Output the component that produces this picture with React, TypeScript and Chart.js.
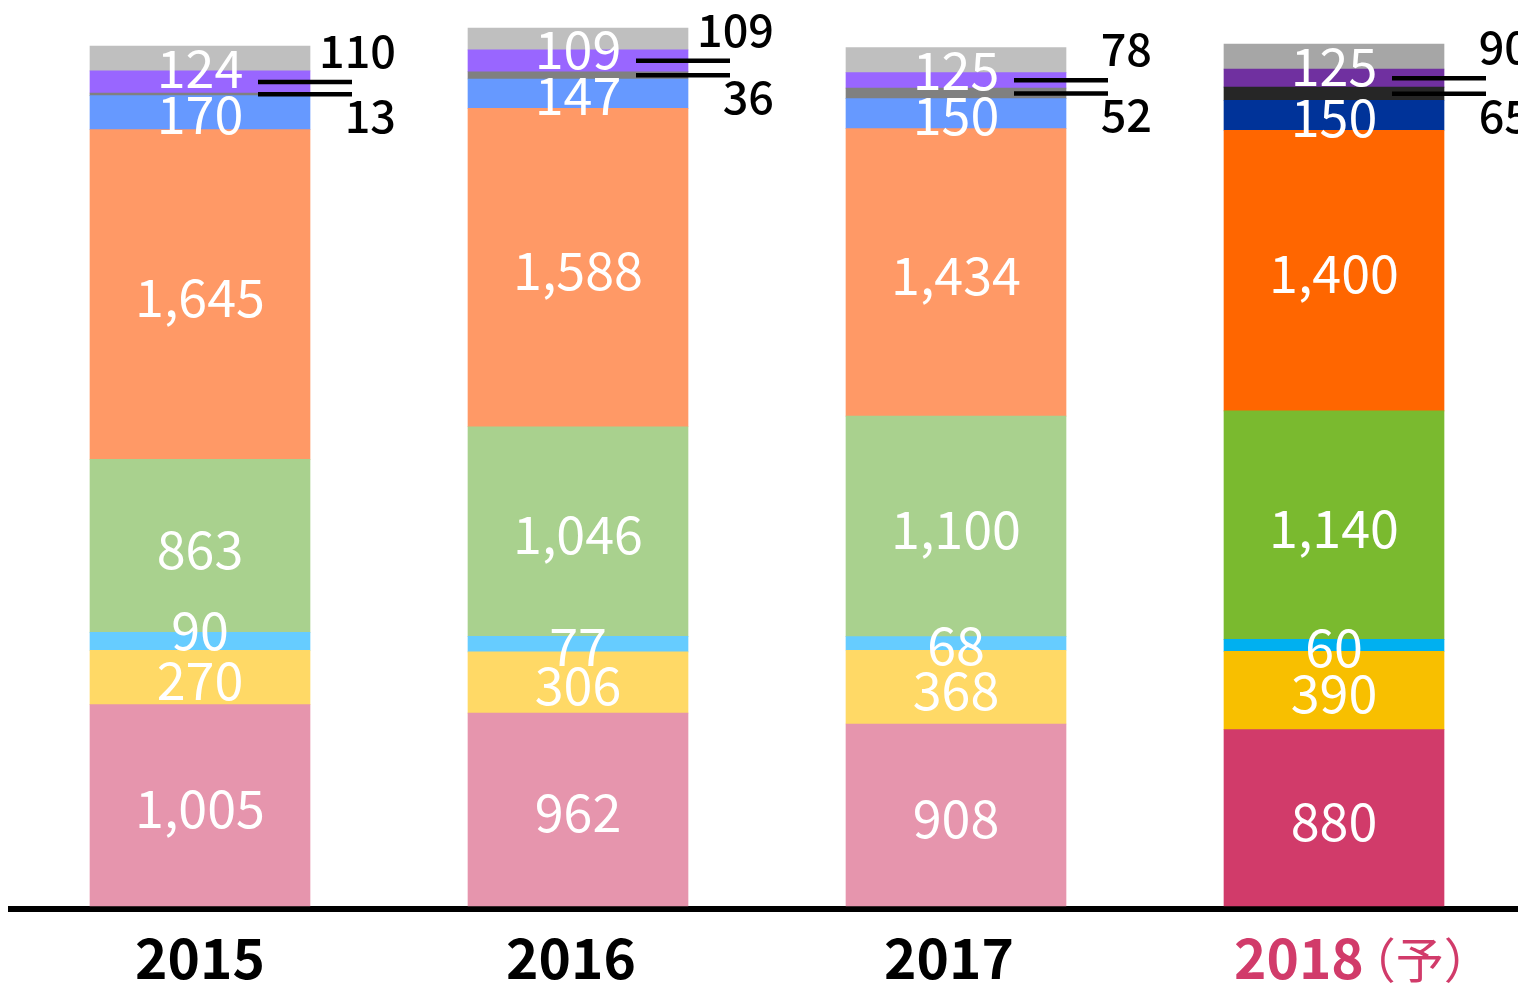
import React, { useEffect, useRef } from "react";
import { Chart, registerables } from "chart.js";

Chart.register(...registerables);

// ---- data ----
const categories = ["2015", "2016", "2017", "2018（予）"];
const pinkValues = [1005, 962, 908, 880];
const yellowValues = [270, 306, 368, 390];
const lightBlueValues = [90, 77, 68, 60];
const greenValues = [863, 1046, 1100, 1140];
const orangeValues = [1645, 1588, 1434, 1400];
const blueValues = [170, 147, 150, 150];
const grayValues = [13, 36, 52, 65];
const purpleValues = [110, 109, 78, 90];
const lightGrayValues = [124, 109, 125, 125];

const FONT = '"Noto Sans CJK JP", "Noto Sans", sans-serif';

type Series = {
  name: string;
  data: number[];
  pastel: string;
  strong: string;
  label: "inside" | "up" | "down";
  shift: number;
};

const series: Series[] = [
  { name: "系列1", data: pinkValues, pastel: "#E695AD", strong: "#D13B6A", label: "inside", shift: 3 },
  { name: "系列2", data: yellowValues, pastel: "#FFD966", strong: "#F8BF00", label: "inside", shift: 3 },
  { name: "系列3", data: lightBlueValues, pastel: "#66CCFF", strong: "#00B0F0", label: "inside", shift: 2 },
  { name: "系列4", data: greenValues, pastel: "#A9D18E", strong: "#7ABA2F", label: "inside", shift: 3 },
  { name: "系列5", data: orangeValues, pastel: "#FF9966", strong: "#FF6600", label: "inside", shift: 3 },
  { name: "系列6", data: blueValues, pastel: "#6699FF", strong: "#003399", label: "inside", shift: 2 },
  { name: "系列7", data: grayValues, pastel: "#808080", strong: "#262626", label: "down", shift: 0 },
  { name: "系列8", data: purpleValues, pastel: "#9966FF", strong: "#7030A0", label: "up", shift: 0 },
  { name: "系列9", data: lightGrayValues, pastel: "#BFBFBF", strong: "#A6A6A6", label: "inside", shift: 10 },
];

// label nudges (style only): "datasetIndex:categoryIndex" -> px
const labelNudge: Record<string, number> = { "2:0": -13 };

const segmentLabels = {
  id: "segmentLabels",
  afterDatasetsDraw(chart: any) {
    const ctx = chart.ctx as CanvasRenderingContext2D;
    ctx.save();
    chart.data.datasets.forEach((ds: any, i: number) => {
      const meta = chart.getDatasetMeta(i);
      const cfg = series[i];
      meta.data.forEach((bar: any, j: number) => {
        const { x, y, base, width } = bar.getProps(["x", "y", "base", "width"], true);
        const v = ds.data[j] as number;
        const text = v.toLocaleString("en-US");
        const mid = (y + base) / 2;
        if (cfg.label === "inside") {
          ctx.font = `52px ${FONT}`;
          ctx.fillStyle = "#FFFFFF";
          ctx.textAlign = "center";
          ctx.textBaseline = "middle";
          ctx.fillText(text, x, mid + cfg.shift + (labelNudge[`${i}:${j}`] || 0));
        } else {
          const right = x + width / 2;
          ctx.strokeStyle = "#000000";
          ctx.lineWidth = 4.5;
          ctx.beginPath();
          ctx.moveTo(right - 52, mid);
          ctx.lineTo(right + 42, mid);
          ctx.stroke();
          ctx.font = `500 45px ${FONT}`;
          ctx.fillStyle = "#000000";
          ctx.textAlign = "right";
          ctx.textBaseline = "middle";
          ctx.fillText(text, right + 86, mid + (cfg.label === "up" ? -31 : 22));
        }
      });
    });
    ctx.restore();
  },
};

const categoryLabels = {
  id: "categoryLabels",
  afterDraw(chart: any) {
    const ctx = chart.ctx as CanvasRenderingContext2D;
    const xs = chart.scales.x;
    const yPos = chart.chartArea.bottom + 49;
    ctx.save();
    ctx.textBaseline = "middle";
    categories.forEach((cat, j) => {
      const cx = xs.getPixelForValue(j);
      const last = j === categories.length - 1;
      const color = last ? "#D13B6A" : "#000000";
      ctx.fillStyle = color;
      const k = cat.indexOf("（");
      if (k < 0) {
        ctx.font = `bold 55px ${FONT}`;
        ctx.textAlign = "center";
        ctx.fillText(cat, cx - (j === 0 ? 0 : 7), yPos);
      } else {
        const main = cat.slice(0, k);
        const suffix = cat.slice(k);
        ctx.font = `bold 55px ${FONT}`;
        ctx.textAlign = "left";
        const w1 = ctx.measureText(main).width;
        const start = cx - 100;
        ctx.fillText(main, start, yPos);
        ctx.font = `48px ${FONT}`;
        ctx.fillText(suffix, start + w1 - 16, yPos + 2);
      }
    });
    ctx.restore();
  },
};

export default function App() {
  const ref = useRef<HTMLCanvasElement | null>(null);

  useEffect(() => {
    if (!ref.current) return;
    const last = categories.length - 1;
    const chart = new Chart(ref.current, {
      type: "bar",
      data: {
        labels: categories,
        datasets: series.map((s) => ({
          label: s.name,
          data: s.data,
          backgroundColor: categories.map((_, j) => (j === last ? s.strong : s.pastel)),
          borderWidth: 0,
          barThickness: 220,
        })),
      },
      options: {
        responsive: false,
        maintainAspectRatio: false,
        animation: false,
        layout: { padding: { left: 11, right: 7, top: 4, bottom: 75 } },
        plugins: {
          legend: { display: false },
          tooltip: { enabled: false },
        },
        scales: {
          x: {
            stacked: true,
            grid: { display: false, drawTicks: false },
            border: { display: true, color: "#000000", width: 6 },
            ticks: { display: false },
            afterFit: (scale: any) => {
              scale.height = 0;
            },
          },
          y: {
            stacked: true,
            display: false,
            min: -15,
            max: 4500,
          },
        },
      },
      plugins: [segmentLabels, categoryLabels],
    });
    return () => chart.destroy();
  }, []);

  return (
    <div
      style={{
        position: "fixed",
        left: 0,
        top: 0,
        width: 1518,
        height: 984,
        overflow: "hidden",
        background: "#FFFFFF",
      }}
    >
      <canvas
        ref={ref}
        width={1530}
        height={984}
        style={{ position: "absolute", left: 0, top: 0, display: "block" }}
      />
    </div>
  );
}
